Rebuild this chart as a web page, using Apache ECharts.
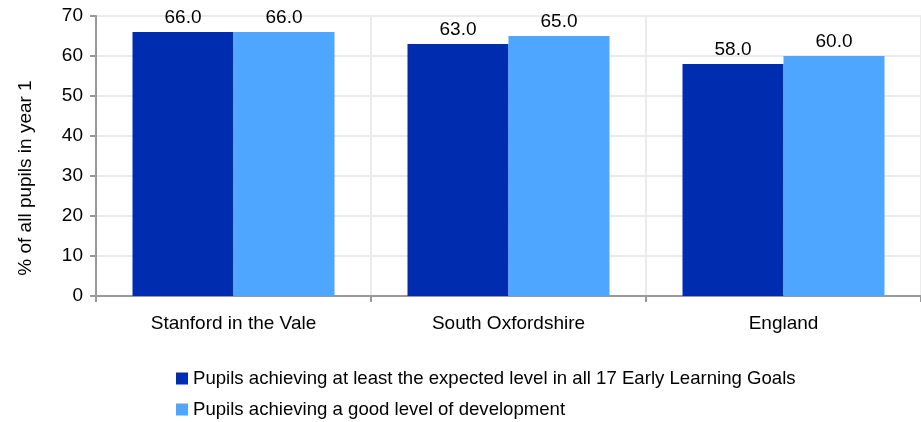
<!DOCTYPE html>
<html><head><meta charset="utf-8">
<script src="https://cdn.jsdelivr.net/npm/echarts@6/dist/echarts.min.js"></script>
<style>html,body{margin:0;padding:0;background:#fff}#c{width:921px;height:422px}</style>
</head><body><div id="c"></div>
<script>
var categories = ["Stanford in the Vale", "South Oxfordshire", "England"];
var seriesNames = ["Pupils achieving at least the expected level in all 17 Early Learning Goals", "Pupils achieving a good level of development"];
var expectedLevel = [66.0, 63.0, 58.0];
var goodLevel = [66.0, 65.0, 60.0];
var yTicks = [0, 10, 20, 30, 40, 50, 60, 70];
var yAxisTitle = '% of all pupils in year 1';
var colors = ["#002daf", "#4ea6ff"];
var font = "'Liberation Sans', Arial, sans-serif";
var fs = 19;
var chart = echarts.init(document.getElementById('c'));
var lbl = {show: true, position: 'top', distance: 5, color: '#000', fontFamily: font, fontSize: fs, formatter: function(p){return p.value.toFixed(1);}};
function legendFor(i, top) {
  return {
    left: 171, top: top, itemWidth: 12, itemHeight: 12, icon: 'rect',
    textStyle: {fontFamily: font, fontSize: 18.6, color: '#000'},
    data: [seriesNames[i]]
  };
}
chart.setOption({
  animation: false,
  textStyle: {fontFamily: font},
  grid: {left: 96, right: 0, top: 16, bottom: 126, containLabel: false},
  legend: [legendFor(0, 364), legendFor(1, 395)],
  graphic: [{
    type: 'text', x: 26, y: 178, rotation: Math.PI / 2,
    style: {text: yAxisTitle, fill: '#000', font: fs + "px 'Liberation Sans', Arial, sans-serif", align: 'center', verticalAlign: 'middle'}
  }],
  xAxis: {
    type: 'category', data: categories,
    axisLine: {lineStyle: {color: '#999', width: 2}},
    axisTick: {show: true, length: 6, lineStyle: {color: '#999', width: 2}},
    axisLabel: {color: '#000', fontSize: fs, fontFamily: font, margin: 18},
    splitLine: {show: true, lineStyle: {color: '#ebebeb', width: 2}}
  },
  yAxis: {
    type: 'value', min: yTicks[0], max: yTicks[yTicks.length-1], interval: 10,
    axisLine: {show: true, lineStyle: {color: '#999', width: 2}},
    axisTick: {show: true, length: 6, lineStyle: {color: '#999', width: 2}},
    axisLabel: {color: '#000', fontSize: fs, fontFamily: font, margin: 13},
    splitLine: {show: true, lineStyle: {color: '#ebebeb', width: 2}}
  },
  series: [
    {name: seriesNames[0], type: 'bar', data: expectedLevel, itemStyle: {color: colors[0]}, barWidth: 101, barGap: '0%', label: lbl},
    {name: seriesNames[1], type: 'bar', data: goodLevel, itemStyle: {color: colors[1]}, barWidth: 101, barGap: '0%', label: lbl}
  ]
});
</script></body></html>
